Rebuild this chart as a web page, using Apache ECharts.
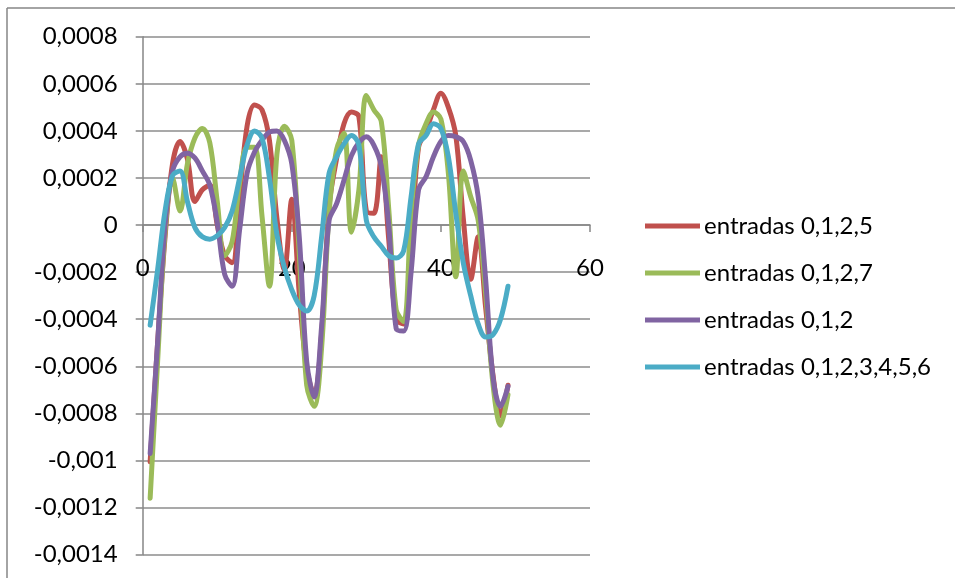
<!DOCTYPE html>
<html>
<head>
<meta charset="utf-8">
<script src="https://cdn.jsdelivr.net/npm/echarts@6/dist/echarts.min.js"></script>
<style>
  html, body { margin: 0; padding: 0; background: #ffffff; }
  #chart { width: 955px; height: 578px; }
</style>
</head>
<body>
<div id="chart"></div>
<script>
// Sample index (x) shared by every series
const xValues = [1,2,3,4,5,6,7,8,9,10,11,12,13,14,15,16,17,18,19,20,21,22,23,24,25,
                 26,27,28,29,30,31,32,33,34,35,36,37,38,39,40,41,42,43,44,45,46,47,48,49];

const seriesNames = ['entradas 0,1,2,5', 'entradas 0,1,2,7', 'entradas 0,1,2', 'entradas 0,1,2,3,4,5,6'];
const seriesColors = ['#C0504D', '#9BBB59', '#8064A2', '#4BACC6'];

const entradas0125 = [
  -0.001005, -0.00050, -0.00005, 0.00026, 0.000355, 0.00028, 0.00010, 0.00015, 0.00017, 0.00000,
  -0.00013, -0.00016, 0.00012, 0.00042, 0.00051, 0.00049, 0.00036, 0.00003, -0.00019, 0.00011,
  -0.00029, -0.00061, -0.00072, -0.00046, 0.00008, 0.00028, 0.00043, 0.00048, 0.00046, 0.00006,
  0.00005, 0.00029, -0.00006, -0.00040, -0.00042, -0.00008, 0.00033, 0.00040, 0.00049, 0.00056,
  0.00050, 0.00038, 0.00003, -0.00023, -0.00005, -0.00035, -0.00064, -0.00081, -0.00068
];
const entradas0127 = [
  -0.00116, -0.00058, -0.00003, 0.00020, 0.00006, 0.00026, 0.00037, 0.00041, 0.00035, 0.00010,
  -0.00013, -0.00007, 0.00018, 0.00033, 0.00033, 0.00004, -0.00026, 0.00030, 0.00042, 0.00036,
  -0.00012, -0.00068, -0.00077, -0.00052, 0.00005, 0.00032, 0.00039, -0.00003, 0.00015, 0.00055,
  0.00049, 0.00044, 0.00007, -0.00036, -0.00041, 0.00005, 0.00034, 0.00043, 0.00048, 0.00045,
  0.00022, -0.00022, 0.00023, 0.00012, 0.00002, -0.00029, -0.00068, -0.00085, -0.00072
];
const entradas012 = [
  -0.00097, -0.00050, 0.00000, 0.00023, 0.00029, 0.000305, 0.000285, 0.00023, 0.00017, 0.00001,
  -0.00021, -0.00026, -0.00002, 0.00022, 0.00031, 0.00036, 0.000395, 0.00040, 0.00036, 0.00026,
  -0.00005, -0.00058, -0.00073, -0.00043, 0.00002, 0.00009, 0.00019, 0.000295, 0.00035, 0.000375,
  0.00034, 0.00025, 0.00000, -0.00044, -0.00045, -0.00020, 0.00015, 0.000205, 0.00029, 0.000355,
  0.00038, 0.000375, 0.000355, 0.000275, 0.00012, -0.00023, -0.00065, -0.00077, -0.000685
];
const entradas0123456 = [
  -0.000425, -0.00019, 0.00006, 0.00021, 0.00023, 0.00010, -0.00001, -0.00005, -0.00006, -0.000045,
  -0.00001, 0.00006, 0.00020, 0.00034, 0.00040, 0.00037, 0.00020, -0.00004, -0.00018, -0.000275,
  -0.00034, -0.000365, -0.00030, -0.00005, 0.00022, 0.00029, 0.000345, 0.00038, 0.00034, 0.00002,
  -0.00005, -0.00009, -0.00013, -0.00014, -0.00011, 0.00012, 0.000345, 0.00038, 0.00043, 0.00041,
  0.00029, 0.00005, -0.00016, -0.00030, -0.00042, -0.000475, -0.000465, -0.00040, -0.00026
];

const seriesValues = [entradas0125, entradas0127, entradas012, entradas0123456];

const Y_MIN = -0.0014;
const Y_MAX = 0.0008;
const Y_STEP = 0.0002;

const FONT = 'Lato, "Open Sans", sans-serif';
const AXIS_GREY = '#868686';

// Decimal comma, trailing zeros removed (0,0008 / -0,001 / 0)
function decimalComma(v) {
  const r = Math.round(v * 1e6) / 1e6;
  if (r === 0) return '0';
  return String(r).replace('.', ',');
}

const chart = echarts.init(document.getElementById('chart'), null, { renderer: 'canvas' });

chart.setOption({
  animation: false,
  backgroundColor: '#ffffff',
  textStyle: { fontFamily: FONT },
  grid: { left: 142.7, top: 36.7, right: 365, bottom: 23.3, containLabel: false, outerBoundsMode: 'none' },
  xAxis: {
    type: 'value',
    position: 'bottom',
    min: 0,
    max: 60,
    interval: 20,
    offset: 0,
    axisLine: { show: true, onZero: false, lineStyle: { color: AXIS_GREY, width: 1.5 } },
    axisTick: { show: true, inside: false, length: 7, lineStyle: { color: AXIS_GREY, width: 1.5 } },
    splitLine: { show: false },
    axisLabel: { color: '#000', fontSize: 24, fontFamily: FONT, margin: 31 }
  },
  yAxis: {
    type: 'value',
    min: Y_MIN,
    max: Y_MAX,
    interval: Y_STEP,
    axisLine: { show: true, onZero: false, lineStyle: { color: AXIS_GREY, width: 1.5 } },
    axisTick: { show: true, inside: false, length: 7, lineStyle: { color: AXIS_GREY, width: 1.5 } },
    splitLine: { show: true, lineStyle: { color: '#8c8c8c', width: 1.5 } },
    axisLabel: { color: '#000', fontSize: 24, fontFamily: FONT, margin: 25, formatter: decimalComma }
  },
  legend: {
    orient: 'vertical',
    left: 645,
    top: 211,
    padding: 0,
    icon: 'rect',
    itemWidth: 55,
    itemHeight: 5,
    itemGap: 17,
    textStyle: { color: '#000', fontSize: 24, lineHeight: 30, fontFamily: FONT, padding: [0, 0, 0, -1] },
    data: seriesNames
  },
  graphic: [
    { type: 'line', silent: true, shape: { x1: 7, y1: 8, x2: 7, y2: 578 }, style: { stroke: AXIS_GREY, lineWidth: 1.5 } },
    { type: 'line', silent: true, shape: { x1: 7, y1: 8, x2: 955, y2: 8 }, style: { stroke: AXIS_GREY, lineWidth: 1.5 } }
  ],
  series: seriesNames.map((name, i) => ({
    name: name,
    type: 'line',
    smooth: 0.35,
    symbol: 'none',
    showSymbol: false,
    clip: true,
    color: seriesColors[i],
    lineStyle: { width: 5, color: seriesColors[i], cap: 'round', join: 'round' },
    itemStyle: { color: seriesColors[i] },
    data: xValues.map((x, k) => [x, seriesValues[i][k]])
  }))
});

// The horizontal axis crosses the value axis at 0: shift it up from the
// bottom edge by the distance the y scale gives between Y_MIN and 0.
const yAtZero = chart.convertToPixel({ yAxisIndex: 0 }, 0);
const yAtMin = chart.convertToPixel({ yAxisIndex: 0 }, Y_MIN);
chart.setOption({ xAxis: { offset: -(yAtMin - yAtZero) } });
</script>
</body>
</html>
